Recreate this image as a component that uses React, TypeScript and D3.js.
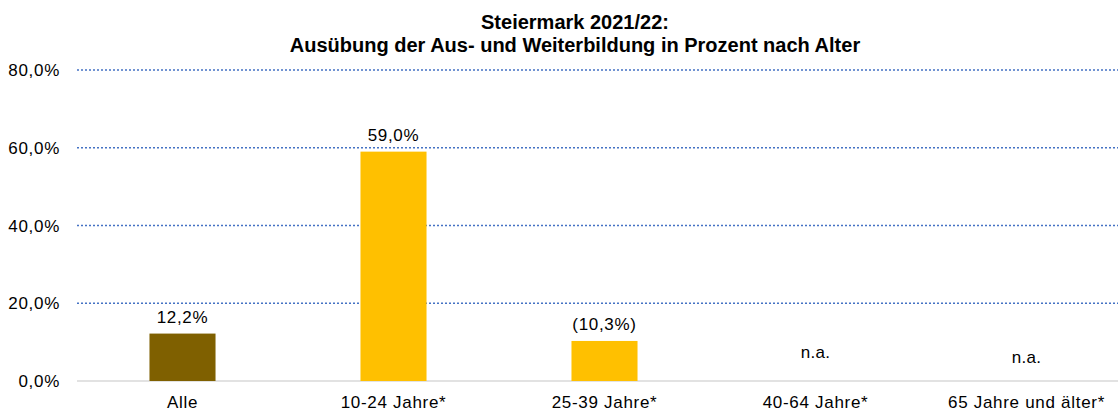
import React from "react";
import * as d3 from "d3";

const categories: string[] = ["Alle", "10-24 Jahre*", "25-39 Jahre*", "40-64 Jahre*", "65 Jahre und älter*"];
const values: (number | null)[] = [0.122, 0.59, 0.103, null, null];
const valueLabels: string[] = ["12,2%", "59,0%", "(10,3%)", "n.a.", "n.a."];
const yTicks: number[] = [0, 0.2, 0.4, 0.6, 0.8];
const yTickLabels: string[] = ["0,0%", "20,0%", "40,0%", "60,0%", "80,0%"];
const titleLines: string[] = ["Steiermark 2021/22:", "Ausübung der Aus- und Weiterbildung in Prozent nach Alter"];

const W = 1118;
const H = 411;
const barColors = ["#7F6000", "#FFC000", "#FFC000", "#FFC000", "#FFC000"];
const naOffsets = [0, 0, 0, 23, 18];
const FONT = "Liberation Sans, Arial, sans-serif";
const LS = 0.7;

export default function App() {
  const x = d3
    .scaleBand<string>()
    .domain(categories)
    .range([77, 1132])
    .paddingInner(0.687)
    .paddingOuter(0.3435);
  const y = d3.scaleLinear().domain([0, 0.8]).range([381, 70]);

  return (
    <svg
      width={W}
      height={H}
      style={{ position: "absolute", left: 0, top: 0, background: "#fff" }}
      fontFamily={FONT}
    >
      {titleLines.map((t, i) => (
        <text
          key={t}
          x={575}
          y={29 + i * 23}
          textAnchor="middle"
          fontSize={20}
          fontWeight="bold"
          fill="#000"
        >
          {t}
        </text>
      ))}
      {yTicks.map((v, i) => (
        <g key={v}>
          {v > 0 && (
            <line
              x1={77}
              x2={W}
              y1={y(v)}
              y2={y(v)}
              stroke="#4472C4"
              strokeWidth={1.5}
              strokeDasharray="2 2"
            />
          )}
          <text
            x={60}
            y={y(v) + 6}
            textAnchor="end"
            fontSize={17}
            letterSpacing={LS}
            fill="#000"
          >
            {yTickLabels[i]}
          </text>
        </g>
      ))}
      <line x1={77} x2={W} y1={y(0)} y2={y(0)} stroke="#D9D9D9" strokeWidth={1.5} />
      {categories.map((c, i) => {
        const v = values[i];
        const bx = x(c)!;
        const cx = bx + x.bandwidth() / 2;
        return (
          <g key={c}>
            {v !== null && (
              <rect
                x={bx}
                y={y(v)}
                width={x.bandwidth()}
                height={y(0) - y(v)}
                fill={barColors[i]}
              />
            )}
            <text
              x={cx}
              y={v !== null ? y(v) - 11 : y(0) - naOffsets[i]}
              textAnchor="middle"
              fontSize={17}
              letterSpacing={v !== null ? LS : 0.3}
              fill="#000"
            >
              {valueLabels[i]}
            </text>
            <text
              x={cx}
              y={408}
              textAnchor="middle"
              fontSize={17}
              letterSpacing={LS}
              fill="#000"
            >
              {c}
            </text>
          </g>
        );
      })}
    </svg>
  );
}
